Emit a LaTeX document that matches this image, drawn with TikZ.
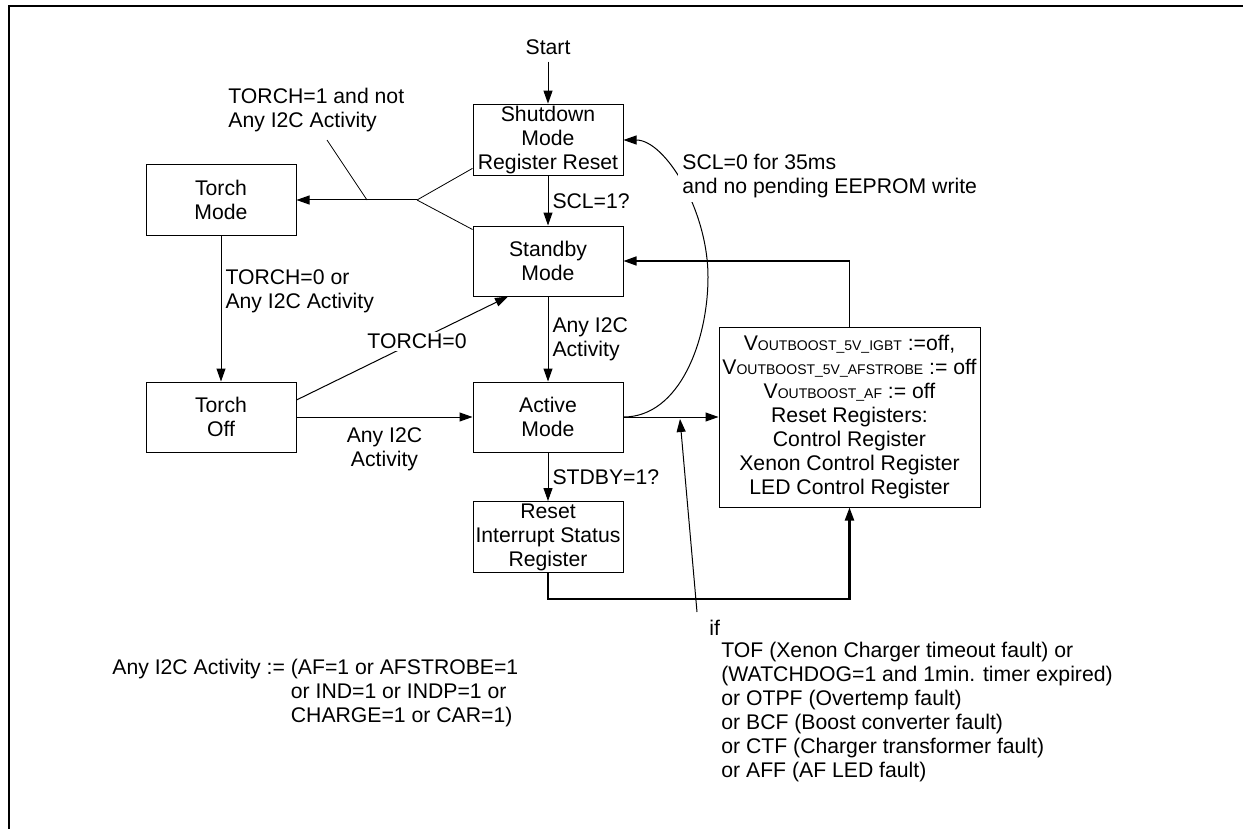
\documentclass[tikz,border=0pt]{standalone}
\usepackage{fontspec}
\setmainfont{Liberation Sans}
\usetikzlibrary{arrows.meta,calc}
\newcommand{\vboost}[1]{V{\fontsize{7}{8}\selectfont #1}}

\begin{document}
\begin{tikzpicture}[x=0.5pt,y=-0.5pt,
  every node/.style={font=\fontsize{10.6}{12}\selectfont},
  state/.style={draw,line width=0.5pt,minimum width=75pt,minimum height=35pt,inner sep=1pt,align=center},
  arr/.style={-{Triangle[length=6.5pt,width=4.5pt]},line width=0.5pt},
  lbl/.style={align=left,inner sep=2pt}]
\useasboundingbox (0,0) rectangle (1243,829);
\draw [line width=1.2pt] (9,829) -- (9,6) -- (1243,6);
\node (start) at (548,47) {Start};
\node [state] (shut) at (548,140) {Shutdown\\Mode\\Register Reset};
\node [state] (tmode) at (221,200) {Torch\\Mode};
\node [state] (stby) at (548,261) {Standby\\Mode};
\node [state] (toff) at (221,417) {Torch\\Off};
\node [state] (act) at (548,417) {Active\\Mode};
\node [state] (rst) at (548,537) {Reset\\Interrupt Status\\Register};
\node [state,minimum width=130.5pt,minimum height=90pt] (regs) at (849.5,417) {\vboost{OUTBOOST\_5V\_IGBT} :=off,\\\vboost{OUTBOOST\_5V\_AFSTROBE} := off\\\vboost{OUTBOOST\_AF} := off\\Reset Registers:\\Control Register\\Xenon Control Register\\LED Control Register};
% transitions
\draw [arr] (start) -- (shut);
\draw [arr] (shut) -- node[right,lbl] {SCL=1?} (stby);
\draw [arr] (stby) -- node[right,lbl] {Any I2C\\Activity} (act);
\draw [arr] (act) -- node[right,lbl] {STDBY=1?} (rst);
\draw [arr] (tmode) -- node[pos=0.38,right,lbl] {TORCH=0 or\\Any I2C Activity} (toff);
\draw [arr] (toff) -- node[below=2pt,align=center] {Any I2C\\Activity} (act);
\draw [arr] ($(toff.east)+(0,-17)$) -- node[pos=0.57,fill=white,inner sep=1pt] {TORCH=0} ($(stby.south)+(-40,0)$);
\draw [arr] (act) -- (regs);
\draw [arr,line width=0.8pt] (regs.north) |- (stby.east);
\draw [arr,line width=1.1pt] (rst.south) -- ++(0,26) -| (regs.south);
% fork to torch mode
\coordinate (fork) at (417,200);
\draw [arr] (fork) -- (tmode);
\draw (fork) -- ($(shut.south west)+(0,-8)$);
\draw (fork) -- ($(stby.north west)+(0,4)$);
\node [lbl,anchor=west] (t1) at (224,110) {TORCH=1 and not\\Any I2C Activity};
\coordinate (ldA) at (327,140);
\coordinate (ldB) at (367,200);
\draw (ldA) -- (ldB);
% timeout back to shutdown
\draw [arr] (act.east) .. controls (680,417) and (708,340) .. (708,277) .. controls (708,210) and (665,140) .. (shut.east);
\node [lbl,anchor=west,fill=white] (scl) at (678,176) {SCL=0 for 35ms\\and no pending EEPROM write};
% fault conditions
\node [lbl,anchor=west] (ifw) at (705,628) {if};
\node [lbl,anchor=west] (faults) at (717,712) {TOF (Xenon Charger timeout fault) or\\(WATCHDOG=1 and 1min. timer expired)\\or OTPF (Overtemp fault)\\or BCF (Boost converter fault)\\or CTF (Charger transformer fault)\\or AFF (AF LED fault)};
\coordinate (ifA) at (697,612);
\coordinate (ifB) at (680,419);
\draw [arr] (ifA) -- (ifB);
\node [lbl,anchor=west] (defs) at (108,693) {Any I2C Activity := (AF=1 or AFSTROBE=1\\\hphantom{Any I2C Activity := }or IND=1 or INDP=1 or\\\hphantom{Any I2C Activity := }CHARGE=1 or CAR=1)};
\end{tikzpicture}
\end{document}
